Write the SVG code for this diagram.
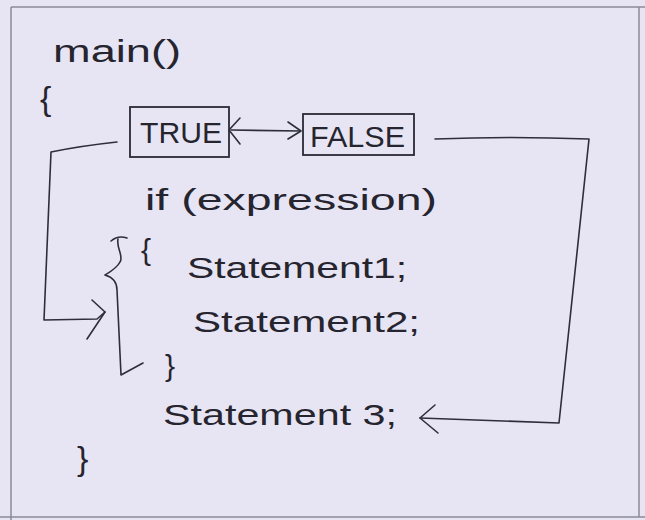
<svg xmlns="http://www.w3.org/2000/svg" width="645" height="520" viewBox="0 0 645 520">
  <style>
    .ink { fill: #26252f; font-family: "Liberation Sans", "DejaVu Sans", sans-serif; }
    .pen { fill: none; stroke: #2e2d3a; stroke-width: 1.6; stroke-linecap: round; stroke-linejoin: round; }
    .box { fill: none; stroke: #2a2934; stroke-width: 1.8; }
    .frame { fill: none; stroke: #8c8b98; stroke-width: 1.5; }
  </style>

  <!-- paper -->
  <rect x="0" y="0" width="645" height="520" fill="#e7e5f3"/>
  <path class="frame" d="M11,7 L645,7 M11,7 L11,520 M0,517 L645,517 M639,7 L639,517"/>

  <g id="main-fn">
    <text class="ink" x="53" y="62" font-size="31" textLength="128" lengthAdjust="spacingAndGlyphs">main()</text>
    <text class="ink" x="40" y="110" font-size="34">{</text>
  </g>

  <g id="true-node">
    <rect class="box" x="130" y="107" width="99" height="50"/>
    <text class="ink" x="140" y="143" font-size="30" textLength="82" lengthAdjust="spacingAndGlyphs">TRUE</text>
  </g>

  <g id="false-node">
    <rect class="box" x="303" y="114" width="111" height="41"/>
    <text class="ink" x="310" y="147" font-size="30" textLength="95" lengthAdjust="spacingAndGlyphs">FALSE</text>
  </g>

  <g id="if-expr">
    <text class="ink" x="145" y="210" font-size="30" textLength="292" lengthAdjust="spacingAndGlyphs">if (expression)</text>
  </g>

  <g id="if-block">
    <text class="ink" x="141" y="260" font-size="30">{</text>
    <text class="ink" x="187" y="278" font-size="29" textLength="220" lengthAdjust="spacingAndGlyphs">Statement1;</text>
    <text class="ink" x="193" y="332" font-size="29" textLength="227" lengthAdjust="spacingAndGlyphs">Statement2;</text>
    <text class="ink" x="165" y="376" font-size="30">}</text>
    <!-- bracket grouping the block -->
    <path class="pen" d="M111,241 Q118,235 127,238" stroke-width="3.2"/>
    <path class="pen" d="M118,239 C116,248 124,256 120,262 C117,268 110,272 105,275 C112,277 117,281 117,290 L121,375 L143,363"/>
  </g>

  <g id="stmt3">
    <text class="ink" x="163" y="425" font-size="29" textLength="234" lengthAdjust="spacingAndGlyphs">Statement 3;</text>
  </g>

  <g id="main-end">
    <text class="ink" x="77" y="470" font-size="34">}</text>
  </g>

  <g id="connectors">
    <!-- TRUE <-> FALSE -->
    <path class="pen" d="M231,130 L300,131"/>
    <path class="pen" d="M240,118 L229,130 L240,144"/>
    <path class="pen" d="M288,122 L301,131 L288,139"/>
    <!-- TRUE branch into block -->
    <path class="pen" d="M117,142 Q80,146 51,152 L44,320 L97,319 L105,312"/>
    <path class="pen" d="M92,300 L105,312 L87,339"/>
    <!-- FALSE branch to Statement 3 -->
    <path class="pen" d="M435,139 Q510,136 589,139 L559,423 L420,418"/>
    <path class="pen" d="M435,405 L420,418 L438,433" stroke-width="2"/>
  </g>
</svg>
